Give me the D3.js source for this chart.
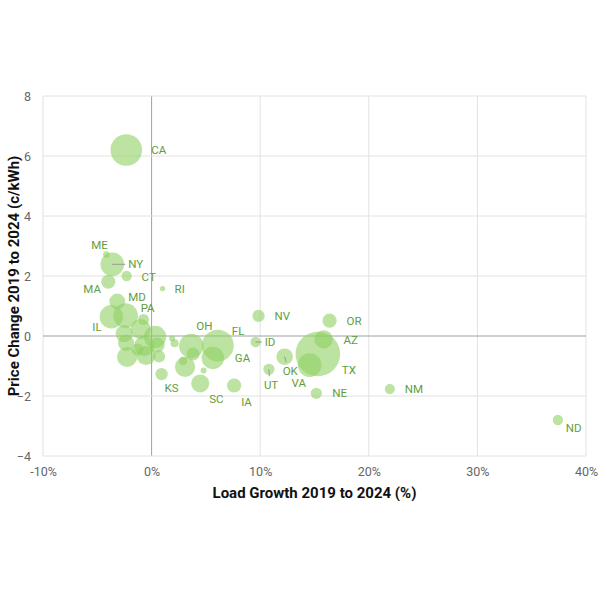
<!DOCTYPE html>
<html>
<head>
<meta charset="utf-8">
<script src="https://cdn.jsdelivr.net/npm/d3@7"></script>
<style>
  body { margin: 0; background: #fff; }
  text { font-family: Roboto, "Noto Sans", sans-serif; }
</style>
</head>
<body>
<div id="chart"></div>
<script>
// state, load growth 2019-2024 (%), price change (c/kWh), retail sales (TWh, bubble area)
var states = ["CA","ME","NY","CT","MA","RI","MD","PA","IL","OH","FL","GA","KS","SC","IA","ID","NV","UT","OK","VA","TX","NE","AZ","OR","NM","ND",
              "WV","MI","NJ","NC","WI","TN","MN","IN","AL","AR","DE","MT","MS","WY","LA","SD","KY"];
var growth = [-2.33,-4.17,-3.62,-2.30,-3.99,1.01,-3.16,-2.39,-3.71,3.66,6.10,5.64,0.92,4.48,7.60,9.58,9.85,10.80,12.25,14.55,15.31,15.17,15.84,16.39,21.94,37.41,
              -0.74,-1.01,-2.53,0.32,-2.35,-0.69,0.51,-2.26,-0.51,0.69,1.89,2.12,3.82,2.90,3.08,4.79,-1.29];
var priceChange = [6.20,2.72,2.39,2.00,1.81,1.58,1.15,0.68,0.64,-0.33,-0.32,-0.73,-1.27,-1.58,-1.65,-0.20,0.67,-1.11,-0.69,-0.97,-0.60,-1.91,-0.11,0.51,-1.77,-2.80,
                   0.55,0.23,0.08,-0.03,-0.23,-0.33,-0.30,-0.70,-0.65,-0.68,-0.08,-0.24,-0.60,-0.83,-1.03,-1.15,-0.45];
var sales = [246,10,137,26,49,7,62,150,135,148,250,125,38,80,50,26,37,31,68,137,490,31,82,50,25,26,
             30,100,72,121,64,100,56,100,90,36,9,16,42,16,100,9,36];

var xTicks = [-10, 0, 10, 20, 30, 40];
var yTicks = [-4, -2, 0, 2, 4, 6, 8];

// label placement (pixels from bubble centre), only for labelled states
var labelOffsets = {
  CA: [25, 0], ME: [-15, -9], NY: [16, 0], CT: [15, 1], MA: [-25, 7], RI: [12, 0],
  MD: [11, -5], PA: [15, -8], IL: [-19, 10], OH: [5, -20], FL: [14, -15], GA: [22, 0],
  KS: [3, 14], SC: [9, 16], IA: [7, 16], ID: [9, 0], NV: [16, 0], UT: [-5, 16],
  OK: [-2, 14], VA: [-18, 18], TX: [24, 16], NE: [16, 0], AZ: [20, 1], OR: [17, 0],
  NM: [15, 0], ND: [8, 8]
};
var leaders = ["NY", "ID", "OK", "UT"];

var margin = { top: 96, right: 14, bottom: 144, left: 43 };
var width = 600 - margin.left - margin.right;
var height = 600 - margin.top - margin.bottom;

var data = states.map(function(s, i) {
  return { state: s, x: growth[i], y: priceChange[i], size: sales[i] };
});
data.sort(function(a, b) { return b.size - a.size; });

var svg = d3.select("#chart").append("svg")
  .attr("width", 600)
  .attr("height", 600)
  .append("g")
  .attr("transform", "translate(" + margin.left + "," + margin.top + ")");

var x = d3.scaleLinear().domain([-10, 40]).range([0, width]);
var y = d3.scaleLinear().domain([-4, 8]).range([height, 0]);
var r = d3.scaleSqrt().domain([0, 490]).range([0, 22.3]);

// grid
svg.append("g").selectAll("line").data(xTicks).enter().append("line")
  .attr("x1", function(d) { return x(d); }).attr("x2", function(d) { return x(d); })
  .attr("y1", 0).attr("y2", height)
  .attr("stroke", function(d) { return d === 0 ? "#a0a0a0" : "#e2e2e2"; })
  .attr("stroke-width", 1);
svg.append("g").selectAll("line").data(yTicks).enter().append("line")
  .attr("y1", function(d) { return y(d); }).attr("y2", function(d) { return y(d); })
  .attr("x1", 0).attr("x2", width)
  .attr("stroke", function(d) { return d === 0 ? "#a0a0a0" : "#e2e2e2"; })
  .attr("stroke-width", 1);

// axes (labels only)
var xAxis = svg.append("g")
  .attr("transform", "translate(0," + height + ")")
  .call(d3.axisBottom(x).tickValues(xTicks).tickSize(0).tickPadding(11)
    .tickFormat(function(d) { return d + "%"; }));
var yAxis = svg.append("g")
  .call(d3.axisLeft(y).tickValues(yTicks).tickSize(0).tickPadding(12));
[xAxis, yAxis].forEach(function(a) {
  a.select(".domain").remove();
  a.selectAll("text").attr("fill", "#666").style("font-size", "12.5px")
    .style("font-family", "Roboto, sans-serif");
});

svg.append("text")
  .attr("x", width / 2).attr("y", height + 42)
  .attr("text-anchor", "middle")
  .style("font-size", "15px").style("font-weight", "bold").attr("fill", "#111")
  .text("Load Growth 2019 to 2024 (%)");
svg.append("text")
  .attr("transform", "translate(" + (-24) + "," + (height / 2) + ") rotate(-90)")
  .attr("text-anchor", "middle")
  .style("font-size", "15px").style("font-weight", "bold").attr("fill", "#111")
  .text("Price Change 2019 to 2024 (c/kWh)");

// bubbles
svg.append("g").selectAll("circle").data(data).enter().append("circle")
  .attr("cx", function(d) { return x(d.x); })
  .attr("cy", function(d) { return y(d.y); })
  .attr("r", function(d) { return r(d.size); })
  .attr("fill", "#8fd163")
  .attr("fill-opacity", 0.6);

// labels
var labelled = data.filter(function(d) { return labelOffsets[d.state]; });

svg.append("g").selectAll("line").data(labelled.filter(function(d) {
    return leaders.indexOf(d.state) >= 0;
  })).enter().append("line")
  .each(function(d) {
    var o = labelOffsets[d.state];
    var cx = o[0] + 6, cy = o[1];           // approx label centre
    var len = Math.sqrt(cx * cx + cy * cy);
    var k = Math.max(0, (len - 9) / len);
    d3.select(this)
      .attr("x1", x(d.x)).attr("y1", y(d.y))
      .attr("x2", x(d.x) + cx * k).attr("y2", y(d.y) + cy * k);
  })
  .attr("stroke", "#999").attr("stroke-width", 1);

svg.append("g").selectAll("text").data(labelled).enter().append("text")
  .attr("x", function(d) { return x(d.x) + labelOffsets[d.state][0]; })
  .attr("y", function(d) { return y(d.y) + labelOffsets[d.state][1]; })
  .attr("dy", "0.35em")
  .attr("fill", "#5f9e3c")
  .style("font-size", "11.5px")
  .text(function(d) { return d.state; });
</script>
</body>
</html>
